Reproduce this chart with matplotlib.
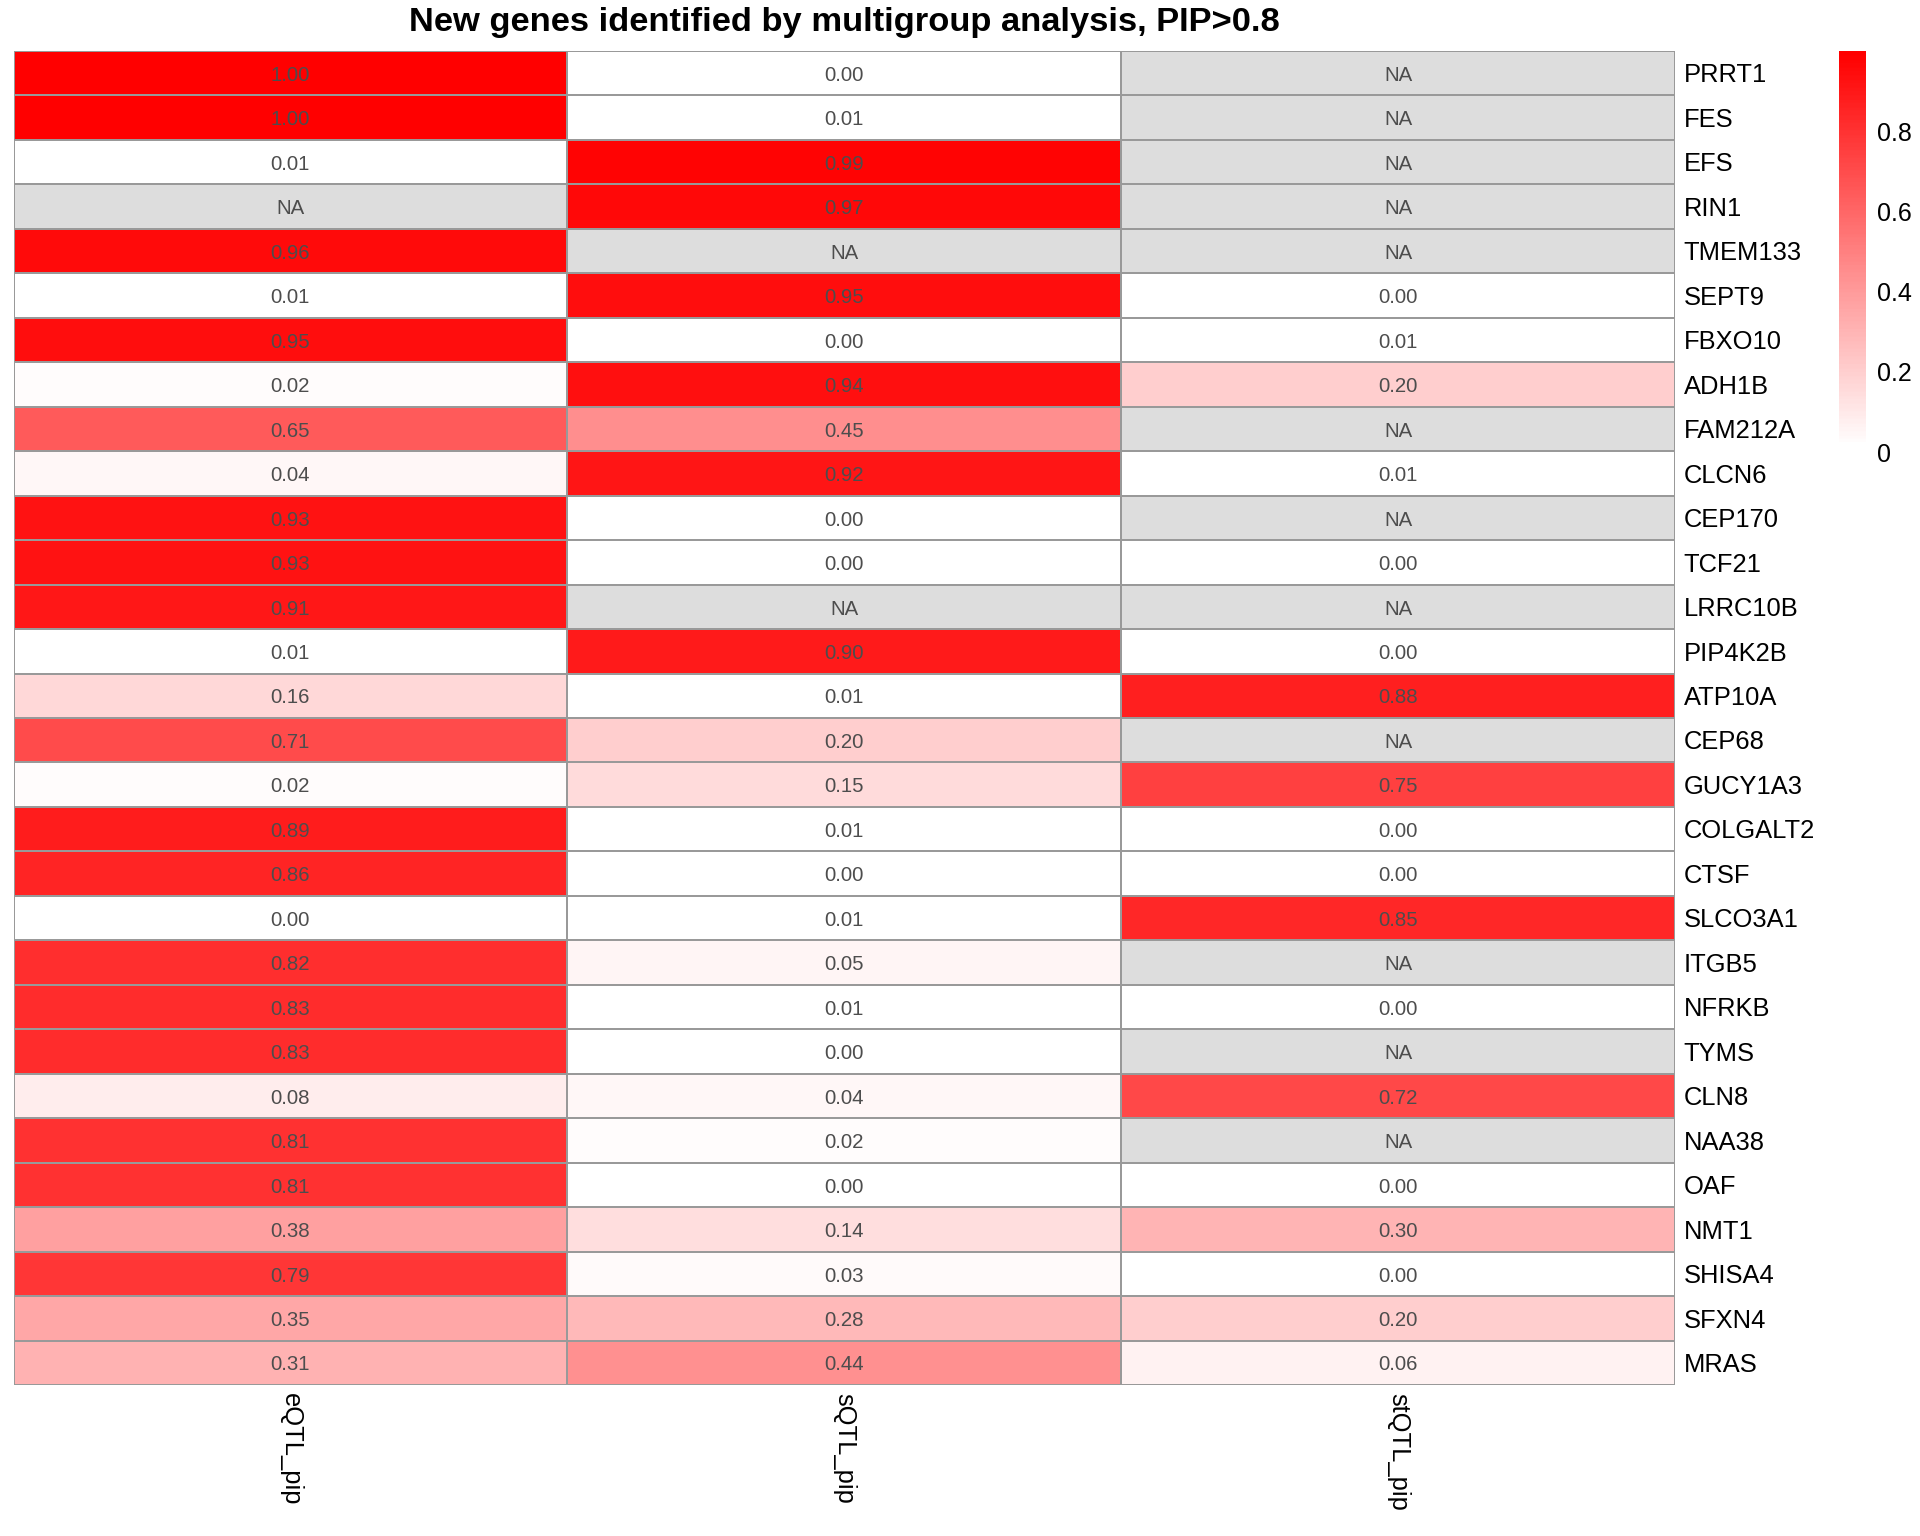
import numpy as np
import matplotlib
matplotlib.use("Agg")
import matplotlib.pyplot as plt
from matplotlib.colors import LinearSegmentedColormap

plt.rcParams['font.family'] = ['Liberation Sans', 'DejaVu Sans']

genes = ["PRRT1", "FES", "EFS", "RIN1", "TMEM133", "SEPT9", "FBXO10", "ADH1B",
         "FAM212A", "CLCN6", "CEP170", "TCF21", "LRRC10B", "PIP4K2B", "ATP10A",
         "CEP68", "GUCY1A3", "COLGALT2", "CTSF", "SLCO3A1", "ITGB5", "NFRKB",
         "TYMS", "CLN8", "NAA38", "OAF", "NMT1", "SHISA4", "SFXN4", "MRAS"]
columns = ["eQTL_pip", "sQTL_pip", "stQTL_pip"]

nan = np.nan
eqtl_pip = [1.00, 1.00, 0.01, nan, 0.96, 0.01, 0.95, 0.02, 0.65, 0.04,
            0.93, 0.93, 0.91, 0.01, 0.16, 0.71, 0.02, 0.89, 0.86, 0.00,
            0.82, 0.83, 0.83, 0.08, 0.81, 0.81, 0.38, 0.79, 0.35, 0.31]
sqtl_pip = [0.00, 0.01, 0.99, 0.97, nan, 0.95, 0.00, 0.94, 0.45, 0.92,
            0.00, 0.00, nan, 0.90, 0.01, 0.20, 0.15, 0.01, 0.00, 0.01,
            0.05, 0.01, 0.00, 0.04, 0.02, 0.00, 0.14, 0.03, 0.28, 0.44]
stqtl_pip = [nan, nan, nan, nan, nan, 0.00, 0.01, 0.20, nan, 0.01,
             nan, 0.00, nan, 0.00, 0.88, nan, 0.75, 0.00, 0.00, 0.85,
             nan, 0.00, nan, 0.72, nan, 0.00, 0.30, 0.00, 0.20, 0.06]

mat = np.column_stack([eqtl_pip, sqtl_pip, stqtl_pip])
nrow, ncol = mat.shape

cmap = LinearSegmentedColormap.from_list("wr", ["white", "red"], N=100)
cmap.set_bad("#DDDDDD")

W, H = 1920, 1536
fig = plt.figure(figsize=(W / 100, H / 100), dpi=100)

# heatmap panel (pixel positions from the reference)
hl, hr, ht, hb = 13.5, 1675, 51, 1385
ax = fig.add_axes([hl / W, 1 - hb / H, (hr - hl) / W, (hb - ht) / H])
ax.pcolormesh(np.ma.masked_invalid(mat), cmap=cmap, vmin=0.01, vmax=1,
              edgecolors="#999999", linewidth=1.4)
ax.set_xlim(0, ncol)
ax.set_ylim(nrow, 0)
for s in ax.spines.values():
    s.set_visible(False)
ax.set_xticks([])
ax.set_yticks([])

dy = 0.05  # small downward nudge so text sits like the reference
for i in range(nrow):
    for j in range(ncol):
        v = mat[i, j]
        txt = "NA" if np.isnan(v) else f"{v:.2f}"
        ax.text(j + 0.5, i + 0.5 + dy, txt, ha="center", va="center",
                fontsize=14.7, color="#4D4D4D")

# row labels
for i, g in enumerate(genes):
    ax.text(ncol + 0.0045 * ncol / ((hr - hl) / W), i + 0.5 + dy, g,
            ha="left", va="center", fontsize=18.4, color="black")

# column labels
for j, c in enumerate(columns):
    fig.text((hl + (j + 0.5) * (hr - hl) / ncol) / W, 1 - 1393 / H, c,
             rotation=-90, ha="center", va="top", fontsize=18.4)

# title
fig.text((hl + hr) / 2 / W, 1 - 22 / H,
         "New genes identified by multigroup analysis, PIP>0.8",
         ha="center", va="center", fontsize=24.8, fontweight="bold")

# colour legend
cl, cr, ctop, cbot = 1839, 1866, 51, 452
cax = fig.add_axes([cl / W, 1 - cbot / H, (cr - cl) / W, (cbot - ctop) / H])
grad = np.linspace(0.025, 1, 256)[:, None]
cax.imshow(grad, extent=[0, 1, 0.025, 1], origin="lower", aspect="auto",
           cmap=cmap, vmin=0.01, vmax=1)
cax.set_xlim(0, 1)
cax.set_ylim(0, 1)
for s in cax.spines.values():
    s.set_visible(False)
cax.set_xticks([])
cax.yaxis.tick_right()
cax.set_yticks([0, 0.2, 0.4, 0.6, 0.8])
cax.set_yticklabels(["0", "0.2", "0.4", "0.6", "0.8"])
cax.tick_params(axis="y", length=0, pad=8, labelsize=18)

fig.savefig("out.png", dpi=100)
